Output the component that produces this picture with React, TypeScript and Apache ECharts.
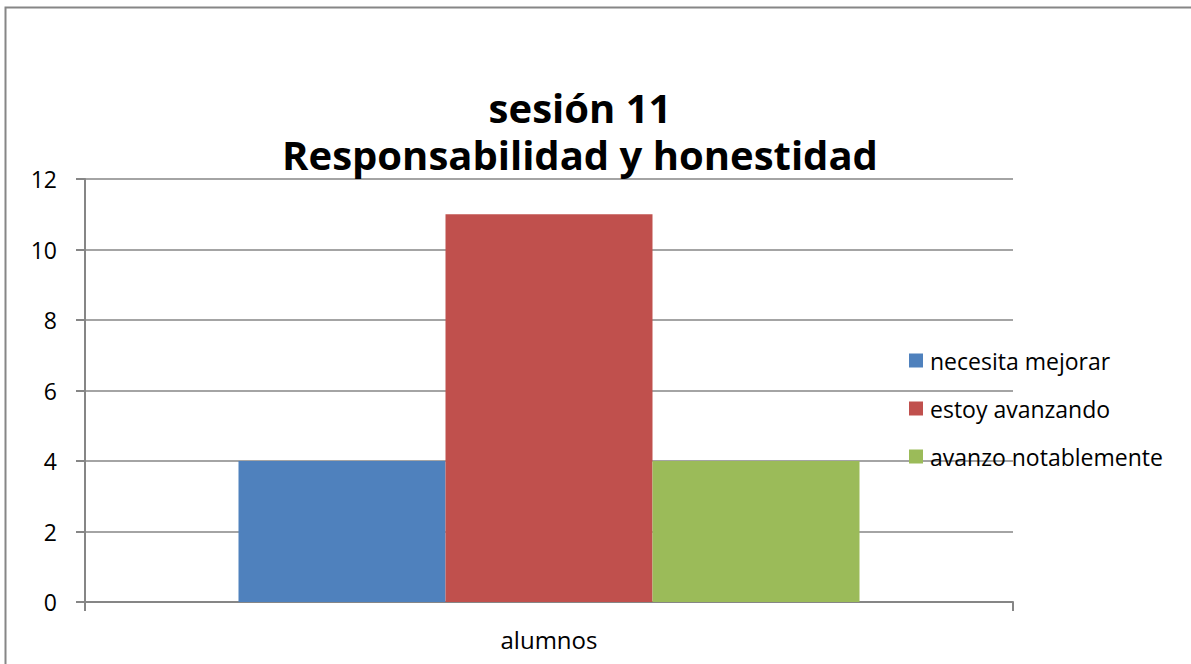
import React, { useEffect, useRef } from "react";
import * as echarts from "echarts";

const categories = ["alumnos"];
const seriesNames = ["necesita mejorar", "estoy avanzando", "avanzo notablemente"];
const seriesValues = [[4], [11], [4]];
const seriesColors = ["#4F81BD", "#C0504D", "#9BBB59"];
const titleLines = ["sesión 11", "Responsabilidad y honestidad"];

export default function App() {
  const ref = useRef<HTMLDivElement>(null);
  useEffect(() => {
    if (!ref.current) return;
    const chart = echarts.init(ref.current, null, { renderer: "svg" });
    const font = "Open Sans, Noto Sans, sans-serif";
    const titleStyle = {
      fontFamily: font,
      fontWeight: "bold",
      fontSize: 40,
      lineHeight: 40,
      color: "#000000",
    };
    chart.setOption({
      animation: false,
      backgroundColor: "#ffffff",
      title: titleLines.map((t, i) => ({
        text: t,
        left: 580,
        textAlign: "center",
        top: 87 + i * 47,
        padding: 0,
        textStyle: titleStyle,
      })),
      graphic: [
        {
          type: "rect",
          shape: { x: 5.5, y: 7.5, width: 1250, height: 700 },
          style: { fill: "none", stroke: "#868686", lineWidth: 2 },
          silent: true,
        },
      ],
      legend: {
        orient: "vertical",
        left: 904,
        top: 344,
        itemWidth: 14,
        itemHeight: 14,
        itemGap: 25,
        icon: "rect",
        textStyle: { fontFamily: font, fontSize: 23, lineHeight: 20, color: "#000000", padding: [0, 0, 0, 2] },
        data: seriesNames,
      },
      grid: { left: 85, right: 178, top: 179, bottom: 62 },
      xAxis: {
        type: "category",
        data: categories,
        axisLine: { lineStyle: { color: "#868686", width: 2 } },
        axisTick: { show: true, length: 9, lineStyle: { color: "#868686", width: 2 } },
        axisLabel: { fontFamily: font, fontSize: 24, color: "#000000", margin: 25 },
      },
      yAxis: {
        type: "value",
        min: 0,
        max: 12,
        interval: 2,
        axisLine: { show: true, lineStyle: { color: "#868686", width: 2 } },
        axisTick: { show: true, length: 9, lineStyle: { color: "#868686", width: 2 } },
        splitLine: { lineStyle: { color: "#868686", width: 1.5 } },
        axisLabel: { fontFamily: font, fontSize: 23, color: "#000000", margin: 28 },
      },
      series: seriesNames.map((name, i) => ({
        name,
        type: "bar",
        data: seriesValues[i],
        barWidth: 207,
        barGap: "0%",
        itemStyle: { color: seriesColors[i] },
      })),
    });
    return () => chart.dispose();
  }, []);
  return (
    <div
      ref={ref}
      style={{ position: "absolute", left: 0, top: 0, width: 1191, height: 664 }}
    />
  );
}
